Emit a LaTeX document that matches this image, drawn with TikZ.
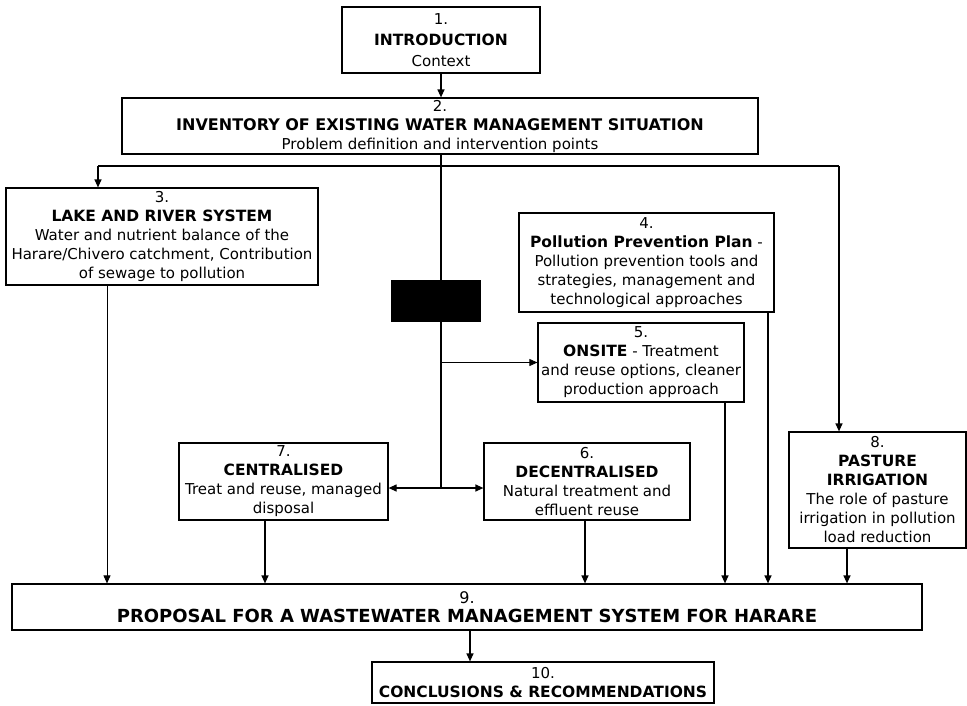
\documentclass[tikz,border=0pt]{standalone}
\usepackage{fontspec}
\setmainfont{DejaVu Sans}
\usetikzlibrary{arrows.meta}
\newcommand\ttl[1]{{\fontsize{15.5}{19}\selectfont\bfseries #1}}
\begin{document}
\begin{tikzpicture}[x=1pt,y=-1pt,
  box/.style={draw, line width=1.2pt, align=center, inner sep=0pt,
    font=\fontsize{15}{19}\selectfont},
  conn/.style={line width=1.2pt},
  arr/.style={line width=1.2pt, -{Triangle[length=8pt,width=7pt]}},
  thinarr/.style={line width=0.8pt, -{Triangle[length=8pt,width=7pt]}},
  dblarr/.style={line width=1.2pt, {Triangle[length=8pt,width=7pt]}-{Triangle[length=8pt,width=7pt]}}]
\useasboundingbox (0,0) rectangle (967,705);
% boxes
\node[box, minimum width=198pt, minimum height=66pt, font=\fontsize{15}{21}\selectfont] (b1) at (441,40)
  {1.\\\ttl{INTRODUCTION}\\Context};
\node[box, minimum width=636pt, minimum height=56pt] (b2) at (440,126)
  {2.\\{\fontsize{16}{19}\selectfont\bfseries INVENTORY OF EXISTING WATER MANAGEMENT SITUATION}\\Problem definition and intervention points};
\node[box, minimum width=312pt, minimum height=97pt] (b3) at (162,236.5)
  {3.\\\ttl{LAKE AND RIVER SYSTEM}\\Water and nutrient balance of the\\Harare/Chivero catchment, Contribution\\of sewage to pollution};
\node[box, minimum width=255pt, minimum height=99pt] (b4) at (646.5,262.5)
  {4.\\\ttl{Pollution Prevention Plan} -\\Pollution prevention tools and\\strategies, management and\\technological approaches};
\node[box, minimum width=206pt, minimum height=79pt] (b5) at (641,362.5)
  {5.\\\ttl{ONSITE} - Treatment\\and reuse options, cleaner\\production approach};
\node[box, minimum width=209pt, minimum height=77pt] (b7) at (283.5,481.5)
  {7.\\\ttl{CENTRALISED}\\Treat and reuse, managed\\disposal};
\node[box, minimum width=206pt, minimum height=77pt] (b6) at (587,481.5)
  {6.\\\ttl{DECENTRALISED}\\Natural treatment and\\effluent reuse};
\node[box, minimum width=177pt, minimum height=116pt] (b8) at (877.5,490)
  {8.\\\ttl{PASTURE}\\\ttl{IRRIGATION}\\The role of pasture\\irrigation in pollution\\load reduction};
\node[box, minimum width=910pt, minimum height=46pt, font=\fontsize{18}{19}\selectfont] (b9) at (467,607)
  {{\fontsize{16}{19}\selectfont 9.}\\\textbf{PROPOSAL FOR A WASTEWATER MANAGEMENT SYSTEM FOR HARARE}};
\node[box, minimum width=342pt, minimum height=41pt] (b10) at (543,682.5)
  {10.\\\ttl{CONCLUSIONS \& RECOMMENDATIONS}};
% helper coordinates
\coordinate (hl) at (98,166);
\coordinate (hr) at (839,166);
\coordinate (j) at (441,488);
% connectors
\draw[arr] (b1.south) -- (b1.south |- b2.north);
\draw[conn] (b2.south -| j) -- (j);
\draw[conn] (hl) -- (hr);
\draw[arr] (hl) -- (hl |- b3.north);
\draw[arr] (hr) -- (hr |- b8.north);
\draw[thinarr] (j |- b5.west) -- (b5.west);
\draw[dblarr] (b7.east |- j) -- (b6.west |- j);
\draw[thinarr] ([xshift=-55pt]b3.south) -- ([xshift=-55pt]b3.south |- b9.north);
\draw[arr] ([xshift=-18.5pt]b7.south) -- ([xshift=-18.5pt]b7.south |- b9.north);
\draw[arr] ([xshift=-2pt]b6.south) -- ([xshift=-2pt]b6.south |- b9.north);
\draw[arr] ([xshift=84pt]b5.south) -- ([xshift=84pt]b5.south |- b9.north);
\draw[arr] ([xshift=121.5pt]b4.south) -- ([xshift=121.5pt]b4.south |- b9.north);
\draw[arr] ([xshift=-30.5pt]b8.south) -- ([xshift=-30.5pt]b8.south |- b9.north);
\draw[arr] ([xshift=3pt]b9.south) -- ([xshift=3pt]b9.south |- b10.north);
% redacted block
\node[fill=black, minimum width=90pt, minimum height=42pt, inner sep=0pt] (blk) at (436,301) {};
\end{tikzpicture}
\end{document}
